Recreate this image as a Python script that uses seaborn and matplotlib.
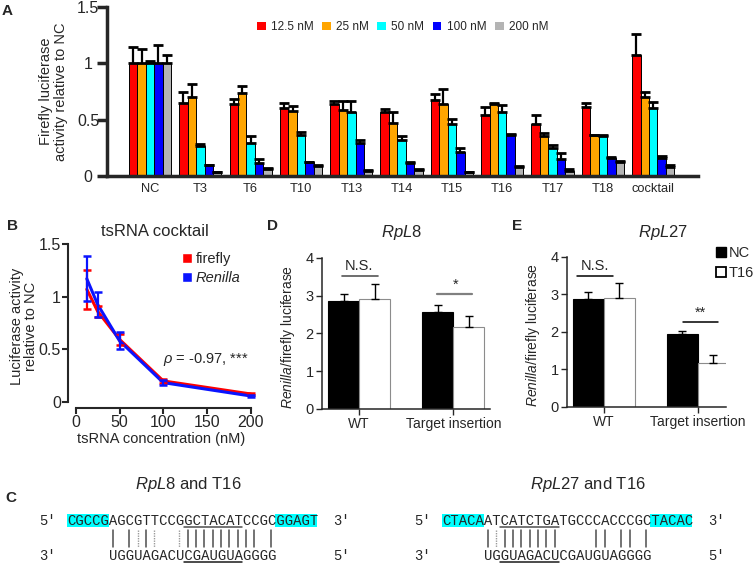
import numpy as np
import pandas as pd
import matplotlib
matplotlib.use("Agg")
import matplotlib.pyplot as plt
from matplotlib.patches import Patch, Rectangle
import seaborn as sns

# ---- panel A data (mean, sem) ----
groups = ["NC", "T3", "T6", "T10", "T13", "T14", "T15", "T16", "T17", "T18", "cocktail"]
doses = ["12.5 nM", "25 nM", "50 nM", "100 nM", "200 nM"]
dose_colors = ["#ff0000", "#ffa500", "#00ffff", "#0000ff", "#b4b4b4"]
mean_125 = [1.0, 0.646, 0.637, 0.60, 0.637, 0.566, 0.675, 0.537, 0.46, 0.61, 1.074]
mean_25 = [1.0, 0.705, 0.734, 0.578, 0.587, 0.466, 0.637, 0.64, 0.351, 0.363, 0.705]
mean_50 = [1.0, 0.262, 0.292, 0.363, 0.572, 0.319, 0.46, 0.566, 0.248, 0.351, 0.602]
mean_100 = [1.0, 0.094, 0.115, 0.121, 0.292, 0.115, 0.215, 0.366, 0.153, 0.159, 0.162]
mean_200 = [1.0, 0.035, 0.065, 0.085, 0.047, 0.05, 0.032, 0.077, 0.047, 0.127, 0.077]
sem_125 = [0.147, 0.104, 0.047, 0.046, 0.033, 0.03, 0.054, 0.071, 0.077, 0.036, 0.189]
sem_25 = [0.13, 0.109, 0.066, 0.039, 0.083, 0.10, 0.133, 0.006, 0.029, 0.003, 0.041]
sem_50 = [0.02, 0.024, 0.062, 0.026, 0.098, 0.032, 0.047, 0.068, 0.023, 0.015, 0.053]
sem_100 = [0.16, 0.006, 0.035, 0.005, 0.028, 0.006, 0.03, 0.004, 0.047, 0.006, 0.012]
sem_200 = [0.07, 0.004, 0.005, 0.012, 0.006, 0.012, 0.003, 0.013, 0.012, 0.006, 0.017]

# ---- panel B data ----
conc = [12.5, 25, 50, 100, 200]
firefly_mean = [1.07, 0.86, 0.594, 0.20, 0.076]
firefly_err = [0.185, 0.05, 0.05, 0.02, 0.012]
renilla_mean = [1.17, 0.925, 0.58, 0.184, 0.057]
renilla_err = [0.215, 0.115, 0.08, 0.025, 0.01]

# ---- panels D / E data ----
constructs = ["WT", "Target insertion"]
treatments = ["NC", "T16"]
rpl8_nc = [2.87, 2.56]
rpl8_nc_err = [0.18, 0.20]
rpl8_t16 = [2.92, 2.18]
rpl8_t16_err = [0.39, 0.29]
rpl27_nc = [2.86, 1.94]
rpl27_nc_err = [0.19, 0.09]
rpl27_t16 = [2.91, 1.16]
rpl27_t16_err = [0.38, 0.22]

# ---- panel C sequences ----
rpl8_target = "CGCCGAGCGTTCCGGCTACATCCGCGGAGT"
rpl27_target = "CTACAATCATCTGATGCCCACCCGCTACAC"
t16_seq = "UGGUAGACUCGAUGUAGGGG"   # written 3' -> 5'
t16_offset = 5
rpl8_seed = (14, 20)
rpl27_seed = (7, 13)

sns.set_style("ticks")
plt.rcParams["font.family"] = ["Liberation Sans", "DejaVu Sans"]
plt.rcParams["mathtext.fontset"] = "custom"
plt.rcParams["mathtext.rm"] = "Liberation Sans"
plt.rcParams["mathtext.it"] = "Liberation Sans:italic"

W, H = 756, 563
fig = plt.figure(figsize=(W / 100, H / 100), dpi=100)


def rect(x0, y0, x1, y1):
    return [x0 / W, 1 - y1 / H, (x1 - x0) / W, (y1 - y0) / H]


def ftxt(x, y, s, **kw):
    fig.text(x / W, 1 - y / H, s, ha=kw.pop("ha", "center"), va=kw.pop("va", "center"), **kw)


# ================= A =================
axA = fig.add_axes(rect(107, 7, 698, 176))
means = [mean_125, mean_25, mean_50, mean_100, mean_200]
sems = [sem_125, sem_25, sem_50, sem_100, sem_200]
rows = []
for d, m, s in zip(doses, means, sems):
    for g, mv, sv in zip(groups, m, s):
        rows.append({"group": g, "dose": d, "mean": mv, "sem": sv})
dfA = pd.DataFrame(rows)

sns.barplot(data=dfA, x="group", y="mean", hue="dose", hue_order=doses, order=groups,
            palette=dose_colors, saturation=1, width=0.84, errorbar=None,
            edgecolor="black", linewidth=0.7, legend=False, ax=axA)
for cont, s in zip(axA.containers, sems):
    xs = [b.get_x() + b.get_width() / 2 for b in cont]
    ys = [b.get_height() for b in cont]
    axA.errorbar(xs, ys, yerr=[np.zeros(len(s)), s], fmt="none", ecolor="black",
                 elinewidth=1.6, capsize=3.5, capthick=2, zorder=1)

axA.set_xlim(-0.855, 10.89)
axA.set_ylim(0, 1.5)
axA.set_yticks([0, 0.5, 1, 1.5])
axA.set_yticklabels(["0", "0.5", "1", "1.5"])
for lab in axA.get_yticklabels():
    lab.set_horizontalalignment("center")
axA.set_xlabel("")
axA.set_ylabel("Firefly luciferase\nactivity relative to NC", fontsize=10.5, linespacing=1.05)
axA.yaxis.set_label_coords(-0.066, 0.5)
for sp in ["top", "right"]:
    axA.spines[sp].set_visible(False)
axA.spines["left"].set_linewidth(2.5)
axA.spines["bottom"].set_linewidth(2.5)
axA.tick_params(axis="y", length=7, width=2.5, labelsize=11.5, pad=6.5)
axA.tick_params(axis="x", length=0, labelsize=9.3, pad=5)
handlesA = [Patch(facecolor=c, edgecolor="none") for c in dose_colors]
axA.legend(handlesA, doses, ncol=5, loc="center", bbox_to_anchor=(0.5, 0.88), frameon=False,
           fontsize=8.5, handlelength=0.75, handleheight=0.75, handletextpad=0.45,
           columnspacing=0.7, borderaxespad=0)

# ================= B =================
axB = fig.add_axes(rect(68, 244, 255, 408.3))
dfB = pd.DataFrame({
    "conc": conc * 2,
    "mean": firefly_mean + renilla_mean,
    "reporter": ["firefly"] * len(conc) + ["Renilla"] * len(conc),
})
sns.lineplot(data=dfB, x="conc", y="mean", hue="reporter", palette=["#ff0000", "#0a14ff"],
             linewidth=2.2, errorbar=None, legend=False, ax=axB)
axB.errorbar(conc, firefly_mean, yerr=firefly_err, fmt="none", ecolor="#ff0000",
             elinewidth=1.6, capsize=3, capthick=1.8)
axB.errorbar(conc, renilla_mean, yerr=renilla_err, fmt="none", ecolor="#0a14ff",
             elinewidth=1.6, capsize=3, capthick=1.8)
axB.set_xlim(-9, 205)
axB.set_ylim(-0.06, 1.5)
axB.set_yticks([0, 0.5, 1, 1.5])
axB.set_yticklabels(["0", "0.5", "1", "1.5"])
axB.set_xticks([0, 50, 100, 150, 200])
axB.spines["left"].set_bounds(0, 1.5)
axB.spines["bottom"].set_bounds(0, 200)
for sp in ["top", "right"]:
    axB.spines[sp].set_visible(False)
for sp in ["left", "bottom"]:
    axB.spines[sp].set_linewidth(1.5)
axB.tick_params(length=4, width=1.5, labelsize=11.5, pad=1)
axB.set_xlabel("tsRNA concentration (nM)", fontsize=10.5, labelpad=1)
axB.set_ylabel("Luciferase activity\nrelative to NC", fontsize=10.5, linespacing=1.05)
axB.yaxis.set_label_coords(-0.16, 0.5)
legB = axB.legend([Patch(facecolor="#ff0000"), Patch(facecolor="#0a14ff")], ["firefly", "Renilla"],
                  loc="upper left", bbox_to_anchor=(0.61, 0.95), frameon=False, fontsize=10.5,
                  handlelength=0.7, handleheight=0.7, handletextpad=0.25, labelspacing=0.35,
                  borderaxespad=0, borderpad=0)
legB.get_texts()[1].set_fontstyle("italic")
axB.text(100, 0.40, r"$\rho$ = -0.97, ***", fontsize=10.5, ha="left", va="center")
ftxt(155, 232, "tsRNA cocktail", fontsize=12)


# ================= D / E =================
def ratio_panel(ax, nc, nc_err, t16, t16_err, xmax, width_px):
    df = pd.DataFrame({
        "construct": constructs * 2,
        "value": nc + t16,
        "treatment": ["NC"] * 2 + ["T16"] * 2,
    })
    sns.barplot(data=df, x="construct", y="value", hue="treatment", hue_order=treatments,
                palette=["black", "white"], saturation=1, width=0.66, errorbar=None,
                edgecolor="black", linewidth=0.8, legend=False, ax=ax)
    for b in ax.containers[1]:
        b.set_edgecolor("#8c8c8c")
    for cont, e in zip(ax.containers, [nc_err, t16_err]):
        xs = [b.get_x() + b.get_width() / 2 for b in cont]
        ys = [b.get_height() for b in cont]
        ax.errorbar(xs, ys, yerr=[np.zeros(len(e)), e], fmt="none", ecolor="black",
                    elinewidth=1, capsize=3, capthick=1, zorder=1)
    ax.set_xlim(-0.394, xmax)
    ax.set_ylim(0, 4)
    ax.set_yticks([0, 1, 2, 3, 4])
    ax.set_xlabel("")
    ax.set_ylabel("$\\mathit{Renilla}$/firefly luciferase", fontsize=10)
    ax.yaxis.set_label_coords(-25 / width_px, 0.48)
    for sp in ["top", "right"]:
        ax.spines[sp].set_visible(False)
    for sp in ["left", "bottom"]:
        ax.spines[sp].set_linewidth(1.1)
    ax.tick_params(axis="y", length=4, width=1, labelsize=10.5, pad=2)
    ax.tick_params(axis="x", length=4, width=1, labelsize=10, pad=2)


axD = fig.add_axes(rect(322, 258, 490, 409))
ratio_panel(axD, rpl8_nc, rpl8_nc_err, rpl8_t16, rpl8_t16_err, 1.39, 168)
axD.plot([-0.18, 0.2], [3.53, 3.53], color="#555555", lw=1.2)
axD.text(0.0, 3.6, "N.S.", ha="center", va="bottom", fontsize=10.5)
axD.plot([0.83, 1.2], [3.05, 3.05], color="#808080", lw=1.6)
axD.text(1.02, 3.1, "*", ha="center", va="bottom", fontsize=10.5)
ftxt(402, 232, "$\\mathit{RpL8}$", fontsize=12)

axE = fig.add_axes(rect(567, 256.7, 726, 406.7))
ratio_panel(axE, rpl27_nc, rpl27_nc_err, rpl27_t16, rpl27_t16_err, 1.30, 159)
axE.plot([-0.29, 0.1], [3.49, 3.49], color="black", lw=1.1)
axE.text(-0.1, 3.56, "N.S.", ha="center", va="bottom", fontsize=10.5)
axE.plot([0.84, 1.22], [2.27, 2.27], color="black", lw=1.1)
axE.text(1.03, 2.32, "**", ha="center", va="bottom", fontsize=10.5)
ftxt(663, 232, "$\\mathit{RpL27}$", fontsize=12)
axE.legend([Patch(facecolor="black", edgecolor="black"),
            Patch(facecolor="white", edgecolor="black", linewidth=1.3)], treatments,
           loc="upper left", bbox_to_anchor=(0.937, 1.07), frameon=False, fontsize=10.5,
           handlelength=0.7, handleheight=0.7, handletextpad=0.2, labelspacing=0.4,
           borderaxespad=0, borderpad=0)

# ================= C =================
watson_crick = {("A", "U"), ("T", "A"), ("G", "C"), ("C", "G")}
wobble = {("G", "U"), ("T", "G")}
# monospace rows: 10 pt Liberation Mono -> one column = 0.6 em = 8.333 px
col_px = 0.6 * 10 * 100 / 72
seq_font = dict(fontsize=10, family="Liberation Mono", va="baseline")


def duplex(ax, target, seed):
    ax.set_ylim(1.2, -0.457)
    ax.axis("off")
    n = len(target)
    for c0 in (0, n - 5):
        ax.add_patch(Rectangle((c0 - 0.05, -0.2), 5.1, 0.38, facecolor="#00ffff",
                               edgecolor="none", zorder=0))
    ax.text(0, 0.11, target, ha="left", **seq_font)
    ax.text(t16_offset, 1.11, t16_seq, ha="left", **seq_font)
    for j, ch in enumerate(t16_seq):
        c = t16_offset + j
        pair = (target[c], ch)
        if pair in watson_crick:
            ax.plot([c + 0.5, c + 0.5], [0.27, 0.75], color="#4d4d4d", lw=1.1)
        elif pair in wobble:
            ax.plot([c + 0.5, c + 0.5], [0.27, 0.75], color="#9a9a9a", lw=1.0, ls=(0, (1, 0.8)))
    ax.plot([seed[0], seed[1] + 1], [0.17, 0.17], color="#4d4d4d", lw=1.1)
    ax.plot([seed[0], seed[1] + 1], [1.17, 1.17], color="#1a1a1a", lw=1.1)
    ax.text(-2.3, 0.11, "5'", ha="center", **seq_font)
    ax.text(n + 3.0, 0.11, "3'", ha="center", **seq_font)
    ax.text(-2.3, 1.11, "3'", ha="center", **seq_font)
    ax.text(n + 3.0, 1.11, "5'", ha="center", **seq_font)


axC1 = fig.add_axes(rect(0, 505, 378, 563))
axC1.set_xlim(-67 / col_px, (378 - 67) / col_px)
duplex(axC1, rpl8_target, rpl8_seed)
ftxt(188, 485, "$\\mathit{RpL8}$ and T16", fontsize=12)

axC2 = fig.add_axes(rect(378, 505, 756, 563))
axC2.set_xlim((378 - 442) / col_px, (756 - 442) / col_px)
duplex(axC2, rpl27_target, rpl27_seed)
ftxt(588, 485, "$\\mathit{RpL27}$ and T16", fontsize=12)

# panel letters
for letter, (lx, ly) in {"A": (7, 11), "B": (13, 226), "C": (11, 498),
                         "D": (272, 226), "E": (517, 226)}.items():
    ftxt(lx, ly, letter, fontsize=11, fontweight="bold")

fig.savefig("out.png", dpi=100)
